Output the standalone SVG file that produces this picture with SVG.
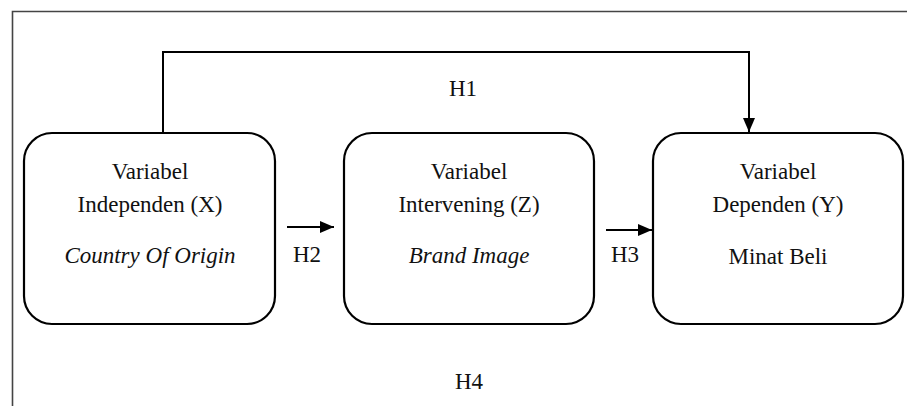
<svg xmlns="http://www.w3.org/2000/svg" width="907" height="406" viewBox="0 0 907 406">
<defs>
<style>
.box{fill:#fff;stroke:#000;stroke-width:2.2}
.t{font-family:'Liberation Serif','DejaVu Serif',serif;font-size:23px;fill:#111;text-anchor:middle}
.i{font-style:italic}
.ln{fill:none;stroke:#000;stroke-width:2}
</style>
<marker id="ah2" markerWidth="14" markerHeight="12" refX="14" refY="6" orient="auto" markerUnits="userSpaceOnUse" viewBox="0 0 14 12">
<path d="M0,0 L14,6 L0,12 z" fill="#000"/>
</marker>
</defs>
<rect width="907" height="406" fill="#fff"/>
<path d="M12.5,406 V11.5 H907" fill="none" stroke="#444" stroke-width="1.6"/>
<g id="connectors">
<path class="ln" d="M163,133 V52 H749 V132" marker-end="url(#ah2)"/>
<path class="ln" d="M287,227 H334" marker-end="url(#ah2)" stroke-width="1.6"/>
<path class="ln" d="M606,230 H652" marker-end="url(#ah2)" stroke-width="1.6"/>
<g font-family="Liberation Serif, DejaVu Serif, serif">
<text class="t" x="463" y="96">H1</text>
<text class="t" x="307" y="262">H2</text>
<text class="t" x="625" y="262">H3</text>
<text class="t" x="469" y="389">H4</text>
</g>
</g>
<g id="nodeX" font-family="Liberation Serif, DejaVu Serif, serif">
<rect class="box" x="24" y="133" width="251" height="191" rx="28"/>
<text class="t" x="150" y="179">Variabel</text>
<text class="t" x="150" y="212">Independen (X)</text>
<text class="t i" x="150" y="263">Country Of Origin</text>
</g>
<g id="nodeZ" font-family="Liberation Serif, DejaVu Serif, serif">
<rect class="box" x="344" y="133" width="250" height="191" rx="28"/>
<text class="t" x="469" y="179">Variabel</text>
<text class="t" x="469" y="212">Intervening (Z)</text>
<text class="t i" x="469" y="263">Brand Image</text>
</g>
<g id="nodeY" font-family="Liberation Serif, DejaVu Serif, serif">
<rect class="box" x="653" y="133" width="250" height="191" rx="28"/>
<text class="t" x="778" y="179">Variabel</text>
<text class="t" x="778" y="212">Dependen (Y)</text>
<text class="t" x="778" y="264">Minat Beli</text>
</g>
</svg>
